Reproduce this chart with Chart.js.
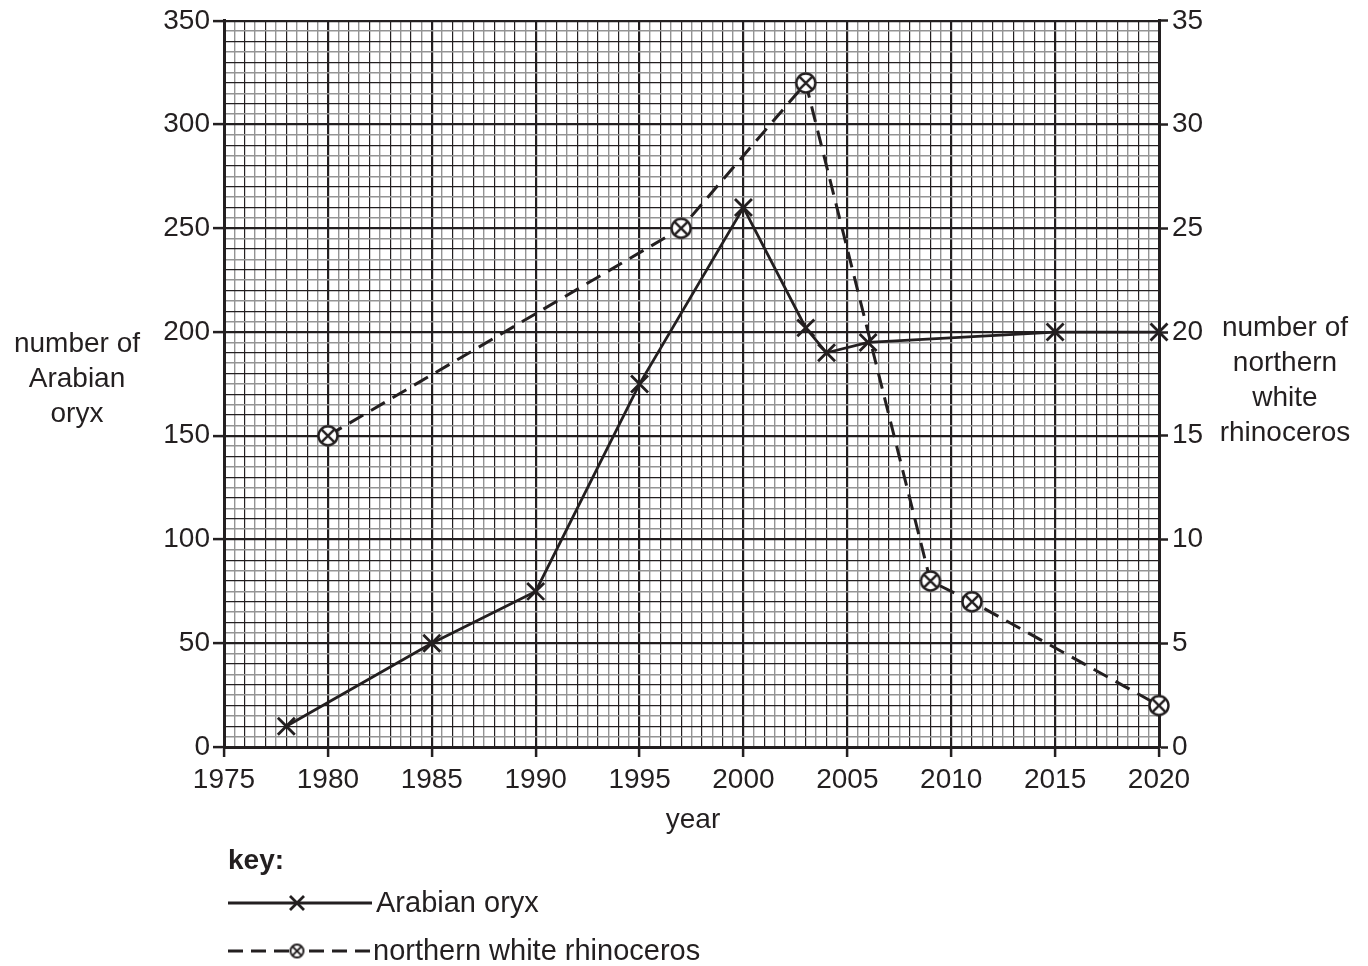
<!DOCTYPE html>
<html>
<head>
<meta charset="utf-8">
<script src="https://cdn.jsdelivr.net/npm/chart.js@4.4.1/dist/chart.umd.min.js"></script>
<style>
body { margin: 0; background: #fff; }
#wrap { width: 1368px; height: 966px; }
</style>
</head>
<body>
<div id="wrap"><canvas id="chart"></canvas></div>
<script>
const oryxYears = [1978, 1985, 1990, 1995, 2000, 2003, 2004, 2006, 2015, 2020];
const oryxCounts = [10, 50, 75, 175, 260, 202, 190, 195, 200, 200];
const rhinoYears = [1980, 1997, 2003, 2009, 2011, 2020];
const rhinoCounts = [15, 25, 32, 8, 7, 2];
const leftTitle = ['number of', 'Arabian', 'oryx'];
const rightTitle = ['number of', 'northern', 'white', 'rhinoceros'];
const xTitle = 'year';
const keyTitle = 'key:';
const keyLabels = ['Arabian oryx', 'northern white rhinoceros'];

const INK = '#231f20';
const GREY = '#939393';
const FONT = "'Liberation Sans', Arial, sans-serif";
const SIZE = 28;

// circle with a cross in it, used as the rhino marker
function circleCross(r, lw) {
    const size = Math.ceil(2 * r + lw + 2);
    const c = document.createElement('canvas');
    c.width = size;
    c.height = size;
    const g = c.getContext('2d');
    const m = size / 2;
    g.fillStyle = '#fff';
    g.strokeStyle = INK;
    g.lineWidth = lw;
    g.beginPath();
    g.arc(m, m, r, 0, Math.PI * 2);
    g.fill();
    g.stroke();
    const d = r * Math.SQRT1_2;
    g.beginPath();
    g.moveTo(m - d, m - d); g.lineTo(m + d, m + d);
    g.moveTo(m + d, m - d); g.lineTo(m - d, m + d);
    g.stroke();
    return c;
}

function level(v, big, mid) {
    if (Math.abs(v % big) < 1e-6) return 2;
    if (Math.abs(v % mid) < 1e-6) return 1;
    return 0;
}

function gridFor(big, mid) {
    return {
        color: ctx => level(ctx.tick.value, big, mid) ? INK : GREY,
        lineWidth: ctx => [1.4, 1.2, 2.2][level(ctx.tick.value, big, mid)],
        tickColor: ctx => level(ctx.tick.value, big, mid) === 2 ? INK : 'rgba(0,0,0,0)',
        tickWidth: 2.5
    };
}

const annotations = {
    id: 'annotations',
    afterDraw(chart) {
        const g = chart.ctx;
        g.save();
        g.fillStyle = INK;
        g.font = SIZE + 'px ' + FONT;
        g.textAlign = 'center';
        g.textBaseline = 'middle';
        leftTitle.forEach((t, i) => g.fillText(t, 77, 344 + i * 35));
        rightTitle.forEach((t, i) => g.fillText(t, 1285, 328 + i * 35));
        g.fillText(xTitle, 693, 820);

        // key
        g.textAlign = 'left';
        g.font = 'bold ' + SIZE + 'px ' + FONT;
        g.fillText(keyTitle, 228, 861);
        g.font = '29px ' + FONT;

        g.strokeStyle = INK;
        g.lineWidth = 2.8;
        g.beginPath();
        g.moveTo(228, 903); g.lineTo(372, 903);
        g.stroke();
        g.beginPath();
        g.moveTo(290, 896); g.lineTo(304, 910);
        g.moveTo(304, 896); g.lineTo(290, 910);
        g.stroke();
        g.fillText(keyLabels[0], 376, 904);

        g.setLineDash([15, 8]);
        g.beginPath();
        g.moveTo(228, 951); g.lineTo(292, 951);
        g.moveTo(370, 951); g.lineTo(302, 951);
        g.stroke();
        g.setLineDash([]);
        const mk = circleCross(6.5, 2);
        g.drawImage(mk, 297 - mk.width / 2, 951 - mk.height / 2);
        g.fillText(keyLabels[1], 373, 952);
        g.restore();
    }
};

const ctx = document.querySelector('#chart').getContext('2d');

new Chart(ctx, {
    type: 'line',
    data: {
        datasets: [{
            label: keyLabels[1],
            data: rhinoYears.map((x, i) => ({ x: x, y: rhinoCounts[i] })),
            yAxisID: 'y2',
            borderColor: INK,
            borderWidth: 3,
            borderDash: [16, 9],
            pointStyle: circleCross(9.5, 2.4),
            pointRadius: 10,
            tension: 0,
            clip: false
        }, {
            label: keyLabels[0],
            data: oryxYears.map((x, i) => ({ x: x, y: oryxCounts[i] })),
            yAxisID: 'y',
            borderColor: INK,
            borderWidth: 2.8,
            pointStyle: 'crossRot',
            pointRadius: 12,
            pointBorderWidth: 2.8,
            pointBorderColor: INK,
            tension: 0,
            clip: false
        }]
    },
    options: {
        responsive: true,
        maintainAspectRatio: false,
        animation: false,
        layout: { padding: { top: 20, left: 0, right: 0, bottom: 0 } },
        plugins: {
            legend: { display: false },
            tooltip: { enabled: false }
        },
        scales: {
            x: {
                type: 'linear',
                min: 1975,
                max: 2020,
                afterFit: s => { s.height = 219; },
                ticks: {
                    stepSize: 0.5,
                    autoSkip: false,
                    maxTicksLimit: 1000,
                    maxRotation: 0,
                    padding: 6,
                    color: INK,
                    font: { family: FONT, size: SIZE },
                    callback: v => v % 5 === 0 ? String(v) : ''
                },
                grid: Object.assign(gridFor(5, 1), { tickLength: 10 }),
                border: { color: INK, width: 3 }
            },
            y: {
                position: 'left',
                min: 0,
                max: 350,
                afterFit: s => { s.width = 224; },
                ticks: {
                    stepSize: 5,
                    autoSkip: false,
                    maxTicksLimit: 1000,
                    padding: 3,
                    color: INK,
                    font: { family: FONT, size: SIZE },
                    callback: v => v % 50 === 0 ? String(v) : ''
                },
                grid: Object.assign(gridFor(50, 10), { tickLength: 11 }),
                border: { color: INK, width: 3 }
            },
            y2: {
                position: 'right',
                min: 0,
                max: 35,
                afterFit: s => { s.width = 209; },
                ticks: {
                    stepSize: 5,
                    padding: 4,
                    color: INK,
                    font: { family: FONT, size: SIZE }
                },
                grid: {
                    drawOnChartArea: false,
                    tickLength: 9,
                    tickColor: INK,
                    tickWidth: 2.5
                },
                border: { color: INK, width: 3 }
            }
        }
    },
    plugins: [annotations]
});
</script>
</body>
</html>
